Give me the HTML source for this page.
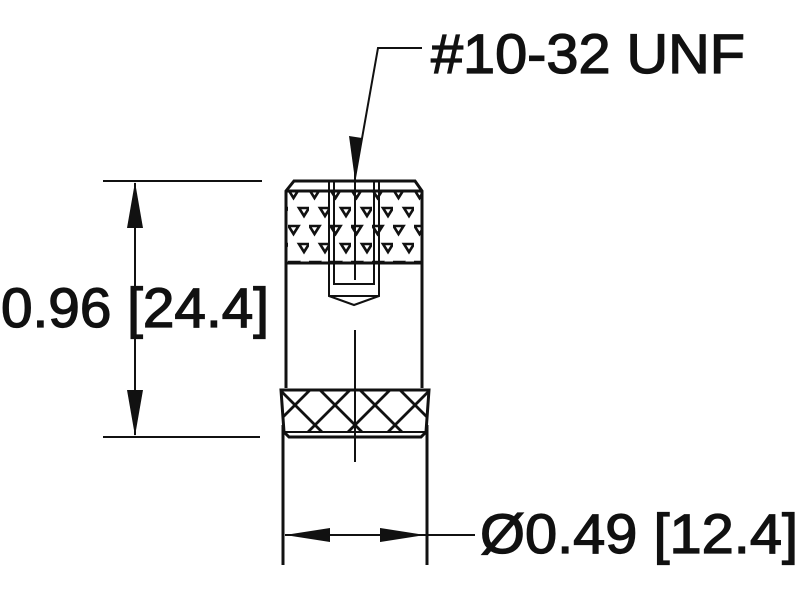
<!DOCTYPE html><html><head><style>body{margin:0;background:#fff}svg{display:block}text{font-family:"Liberation Sans",sans-serif;fill:#111;stroke:#111;stroke-width:1.3}</style></head><body>
<svg width="800" height="600" viewBox="0 0 800 600" xmlns="http://www.w3.org/2000/svg">
<defs>
<pattern id="tri" x="288" y="187" width="21" height="36" patternUnits="userSpaceOnUse">
<path d="M0.5,3 L10.5,3 L5.5,11Z M11,21 L21,21 L16,29Z" fill="none" stroke="#111" stroke-width="2.6"/>
</pattern>
<clipPath id="ring"><path d="M282,390 L428,390 L426,432 L284,432Z"/></clipPath>
</defs>
<g fill="none" stroke="#111" stroke-width="3">
<path d="M286,388 L286,191 L294,181 L415,181 L422,191 L422,388"/>
<line x1="286" y1="191" x2="422" y2="191"/>
<line x1="286" y1="263" x2="422" y2="263"/>
<rect x="287" y="192" width="134" height="70" fill="url(#tri)" stroke="none"/>
<g stroke-width="2">
<path d="M329,182 L329,296 L354,305 L379,296 L379,182"/>
<path d="M334,182 L334,284 L374,284 L374,182"/>
<line x1="329" y1="296" x2="379" y2="296"/>
</g>
<line x1="355" y1="330" x2="355" y2="462" stroke-width="2"/>
<line x1="355" y1="140" x2="355" y2="280" stroke-width="2"/>
<path d="M281,390 L429,390 L426,432 L421,437 L289,437 L284,432Z"/>
<line x1="284" y1="432" x2="426" y2="432" stroke-width="2"/>
<g clip-path="url(#ring)" stroke-width="2.8">
<path d="M200,390 l50,50 M240,390 l50,50 M280,390 l50,50 M320,390 l50,50 M360,390 l50,50 M400,390 l50,50
M260,440 l50,-50 M300,440 l50,-50 M340,440 l50,-50 M380,440 l50,-50 M420,440 l50,-50 M220,440 l50,-50"/>
</g>
<line x1="283" y1="425" x2="283" y2="565"/>
<line x1="427" y1="425" x2="427" y2="565"/>
<line x1="285" y1="535" x2="475" y2="535" stroke-width="2"/>
<line x1="103" y1="181" x2="262" y2="181" stroke-width="2"/>
<line x1="103" y1="437" x2="260" y2="437" stroke-width="2"/>
<line x1="135" y1="183" x2="135" y2="435" stroke-width="2"/>
<polyline points="355,178 378,48 422,48" stroke-width="2"/>
</g>
<g fill="#111">
<path d="M135,182 L127,228 L143,228Z"/>
<path d="M135,436 L127,390 L143,390Z"/>
<path d="M285,535 L330,528 L330,542Z"/>
<path d="M425,535 L380,528 L380,542Z"/>
<path d="M355,180 L349,136 L362,138Z"/>
</g>
<text x="431" y="73" font-size="56" textLength="314" lengthAdjust="spacingAndGlyphs">#10-32 UNF</text>
<text x="1" y="327" font-size="56" textLength="268" lengthAdjust="spacingAndGlyphs">0.96 [24.4]</text>
<text x="480" y="553" font-size="56" textLength="318" lengthAdjust="spacingAndGlyphs">Ø0.49 [12.4]</text>
</svg>
</body></html>
